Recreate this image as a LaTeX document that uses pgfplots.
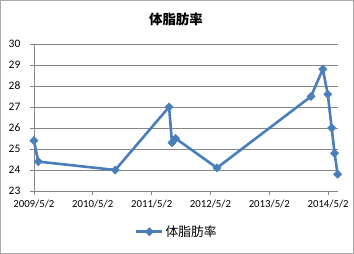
\documentclass[border=0pt]{standalone}
\usepackage{pgfplots}
\pgfplotsset{compat=1.18}
\usepackage{fontspec}
\setmainfont{Carlito}
\newfontfamily\cjk{Noto Sans CJK JP}
\definecolor{series}{HTML}{4A7EBB}
\definecolor{gridc}{HTML}{868686}

% body fat readings: days since 2009/5/2, percent
\pgfplotstableread{
day   fat
0     25.4
27    24.4
505   24.0
839   27.0
857   25.3
880   25.5
1136  24.1
1720  27.5
1793  28.8
1824  27.6
1848  26.0
1866  24.8
1885  23.8
}\fatdata

\begin{document}
\begin{tikzpicture}[x=1bp,y=1bp]
\draw[gridc!70, line width=0.75bp] (0.5,0.5) rectangle (353.5,253.5);
\node[font=\cjk\bfseries\fontsize{13.5}{15}\selectfont] at (176,234) {体脂肪率};
\begin{axis}[
  at={(34bp,63bp)}, anchor=south west,
  width=304bp, height=147bp, scale only axis,
  xmin=0, xmax=1888, ymin=23, ymax=30,
  xtick={0,365,731,1096,1461,1826},
  xticklabels={2009/5/2,2010/5/2,2011/5/2,2012/5/2,2013/5/2,2014/5/2},
  ytick={23,24,...,30},
  ymajorgrids,
  grid style={gridc, line width=0.75bp},
  axis x line*=bottom, axis y line*=left,
  axis line style={gridc, line width=0.75bp, -},
  tick style={gridc, line width=0.75bp},
  tick align=outside, major tick length=4bp,
  /pgf/number format/assume math mode=true,
  xticklabel style={font=\fontsize{10.8}{12}\selectfont, text=black, yshift=-1bp},
  yticklabel style={font=\fontsize{11.5}{13}\selectfont, text=black, xshift=-6bp},
  clip=false,
  legend style={at={(0.47,-0.277)}, anchor=center, draw=none, fill=none,
    font=\cjk\fontsize{12.8}{14}\selectfont},
  legend image code/.code={\draw[mark repeat=2, mark phase=2]
    plot coordinates {(0bp,0bp)(13bp,0bp)(26bp,0bp)};},
]
\addplot[series, line width=2.6bp, mark=square*, mark size=2.9bp,
  mark options={rotate=45, fill=series, draw=series, line width=0.5bp}]
  table[x=day, y=fat] {\fatdata};
\addlegendentry{体脂肪率}
\end{axis}
\end{tikzpicture}
\end{document}
